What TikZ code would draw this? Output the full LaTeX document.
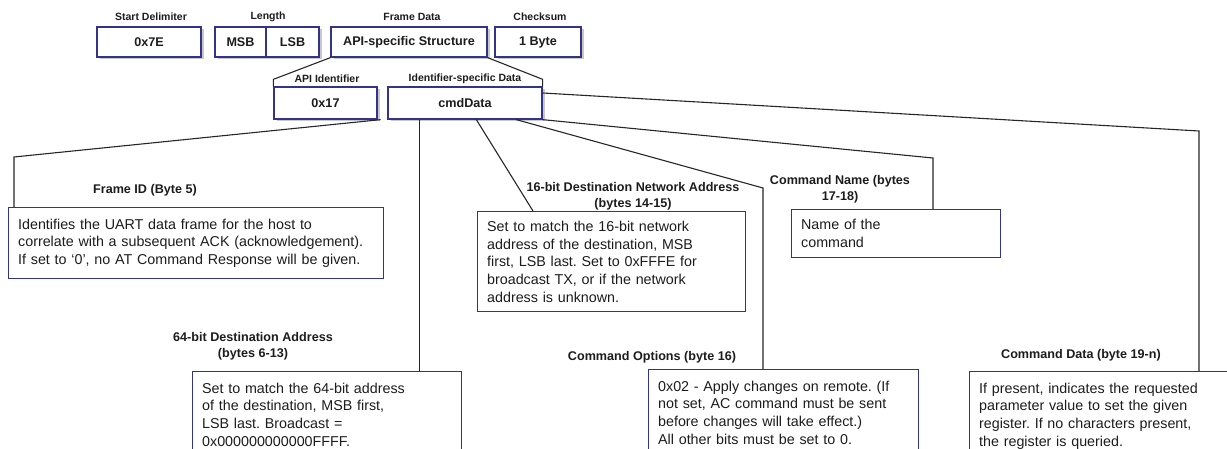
\documentclass[tikz,border=0pt]{standalone}
\usepackage{fontspec}
\setmainfont{Liberation Sans}
\usepackage{tikz}
\usetikzlibrary{positioning,shadows,calc}
\definecolor{apiNavy}{RGB}{51,51,140}
\definecolor{apiInk}{RGB}{28,28,28}
\definecolor{apiShade}{RGB}{200,200,200}
\newcommand{\runoff}{\rule[-16pt]{0pt}{1pt}}
\frenchspacing

\begin{document}
\begin{tikzpicture}[x=1pt,y=-1pt,
  fld/.style={draw=apiNavy,line width=1.3pt,fill=white,minimum height=30pt,inner sep=0pt,
              font=\fontsize{12.6}{15}\selectfont\bfseries,text=apiInk,
              drop shadow={shadow xshift=2.5pt,shadow yshift=-2.5pt,fill=apiShade,opacity=1}},
  hdr/.style={font=\fontsize{10.5}{12.6}\selectfont\bfseries,text=apiInk,inner sep=0pt},
  ttl/.style={font=\fontsize{12.6}{16}\selectfont\bfseries,text=apiInk,align=center,inner sep=0pt},
  desc/.style={draw=apiNavy,line width=1.3pt,anchor=north west,align=left,
               inner xsep=9.5pt,inner ysep=8pt,
               font=\fontsize{14.3}{17.7}\selectfont,text=apiInk},
  cut/.style={desc,inner ysep=11pt},
  link/.style={draw=black!85,line width=1.1pt}]
\useasboundingbox (0,0) rectangle (1227,449);
\clip (0,0) rectangle (1227,449);

% frame fields
\node[hdr] (hdelim) at (151,17) {Start Delimiter};
\node[hdr] (hlen)   at (268,17) {Length};
\node[hdr] (hframe) at (412,17) {Frame Data};
\node[hdr] (hchk)   at (540,17) {Checksum};
\node[fld,minimum width=104pt] (delim) at (149,42) {0x7E};
\node[fld,minimum width=51pt]  (msb)   at (240.5,42) {MSB};
\node[fld,minimum width=53pt]  (lsb)   at (292.5,42) {LSB};
\node[fld,minimum width=156pt] (frame) at (409,42) {API-specific Structure};
\node[fld,minimum width=86pt]  (chk)   at (538,42) {1 Byte};

% api structure
\node[hdr] (hapi) at (327,79) {API Identifier};
\node[hdr] (hcmd) at (465,79) {Identifier-specific Data};
\node[fld,minimum width=103pt,minimum height=32pt] (apiid) at (325.5,103) {0x17};
\node[fld,minimum width=154pt,minimum height=32pt] (cmd)   at (465,103) {cmdData};
\draw[link] (frame.south west) -- ([yshift=7pt]apiid.north west) -- (apiid.north west);
\draw[link] (frame.south east) -- ([yshift=7pt]cmd.north east) -- (cmd.north east);

% field descriptions
\node[ttl] (tfid) at (145,190) {Frame ID (Byte 5)};
\node[desc,text width=356pt,minimum height=71pt] (fid) at (8,207)
  {Identifies the UART data frame for the host to\\
   correlate with a subsequent ACK (acknowledgement).\\
   If set to `0', no AT Command Response will be given.};

\node[ttl] (t64) at (253,346) {64-bit Destination Address\\(bytes 6-13)};
\node[cut,text width=250pt] (a64) at (192,371)
  {Set to match the 64-bit address\\
   of the destination, MSB first,\\
   LSB last. Broadcast =\\
   0x000000000000FFFF.\runoff};

\node[ttl] (t16) at (633,196) {16-bit Destination Network Address\\(bytes 14-15)};
\node[desc,text width=249pt,minimum height=100pt] (a16) at (477,211)
  {Set to match the 16-bit network\\
   address of the destination, MSB\\
   first, LSB last. Set to 0xFFFE for\\
   broadcast TX, or if the network\\
   address is unknown.};

\node[ttl] (topt) at (652,357) {Command Options (byte 16)};
\node[cut,text width=251pt] (opt) at (648,369)
  {0x02 - Apply changes on remote. (If\\
   not set, AC command must be sent\\
   before changes will take effect.)\\
   All other bits must be set to 0.\runoff};

\node[ttl] (tname) at (840,189) {Command Name (bytes\\17-18)};
\node[desc,text width=190pt,minimum height=48pt] (cname) at (791,209)
  {Name of the\\command};

\node[ttl] (tdata) at (1081,355) {Command Data (byte 19-n)};
\node[cut,text width=300pt] (cdata) at (969,371)
  {If present, indicates the requested\\
   parameter value to set the given\\
   register. If no characters present,\\
   the register is queried.\runoff};

% connectors from cmdData
\coordinate (optbend)  at (763,188);
\coordinate (namebend) at (933,158);
\coordinate (databend) at (1199,131);
\draw[link] ([xshift=3pt]apiid.south east) -- ([xshift=6pt,yshift=50pt]fid.north west)
  -- ([xshift=6pt]fid.north west);
\draw[link] ([xshift=32pt]cmd.south west) -- ([xshift=32pt]cmd.south west |- a64.north);
\draw[link] ([xshift=89pt]cmd.south west) -- ([xshift=56pt]a16.north west);
\draw[link] ([xshift=129pt]cmd.south west) -- (optbend) -- (optbend |- opt.north);
\draw[link] (cmd.south east) -- (namebend) -- (namebend |- cname.north);
\draw[link] ([yshift=10pt]cmd.east) -- (databend) -- (databend |- cdata.north);
\end{tikzpicture}
\end{document}
